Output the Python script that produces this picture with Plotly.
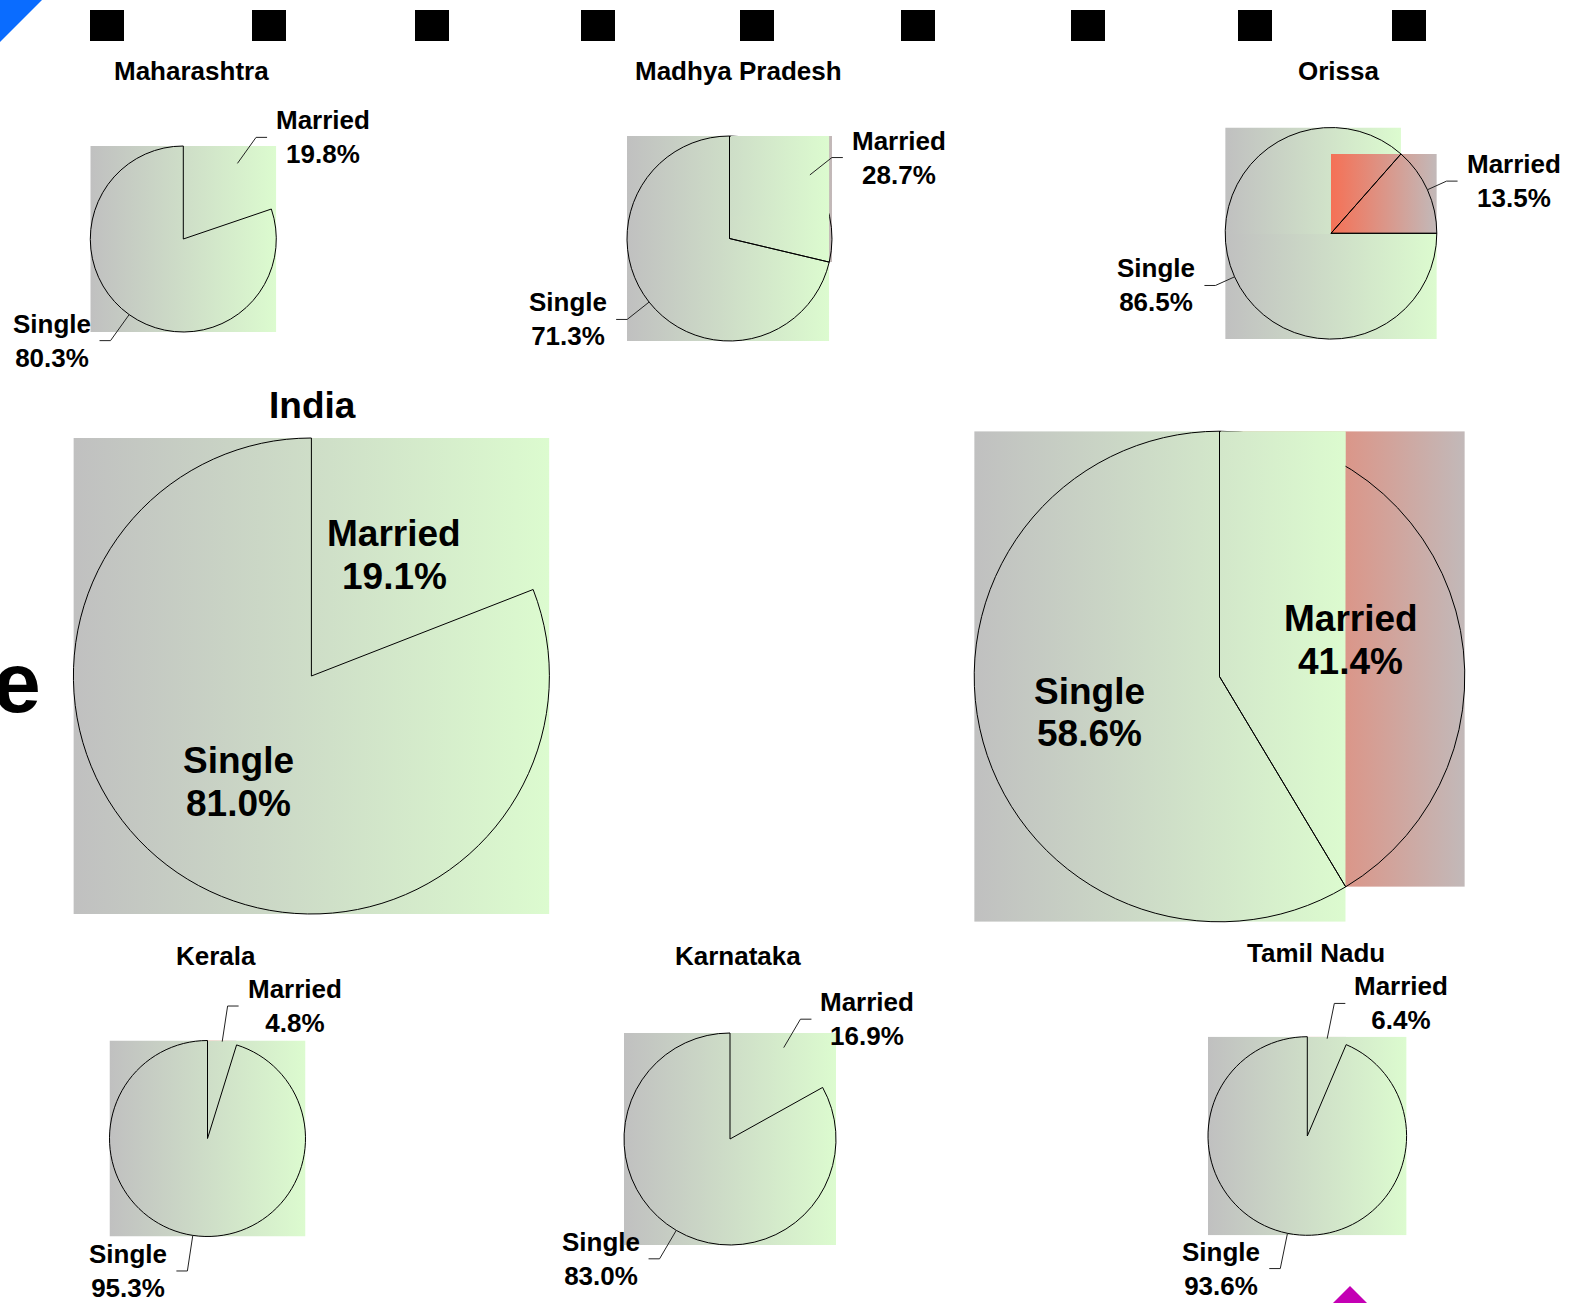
import base64
import math
import plotly.graph_objects as go

W, H = 1573, 1303

# ---------------- data ----------------
states = ["Maharashtra", "Madhya Pradesh", "Orissa", "India", "", "Kerala", "Karnataka", "Tamil Nadu"]
married = [19.8, 28.7, 13.5, 19.1, 41.4, 4.8, 16.9, 6.4]
single = [80.3, 71.3, 86.5, 81.0, 58.6, 95.3, 83.0, 93.6]
slice_names = ["Married", "Single"]

# ---------------- layout config (pixels) ----------------
pies = [
    dict(cx=183.3, cy=239.0, r=93.0, title=(191.6, 71), tsize=26, mode="out", lead=32),
    dict(cx=729.5, cy=238.5, r=102.5, title=(738.2, 71), tsize=26, mode="out", lead=28, cover=True),
    dict(cx=1331.0, cy=233.3, r=105.8, title=(1338.5, 71), tsize=26, mode="out", lead=21,
         single_first=True, split=270),
    dict(cx=311.4, cy=676.0, r=238.0, title=(312, 405), tsize=37, mode="in", kin=(0.616, 0.54)),
    dict(cx=1219.5, cy=676.5, r=245.3, title=None, mode="in", kin=(0.555, 0.55), cover=True),
    dict(cx=207.5, cy=1138.5, r=98.0, title=(216, 956), tsize=26, mode="out", lead=36),
    dict(cx=730.0, cy=1139.0, r=106.0, title=(737.7, 956), tsize=26, mode="out", lead=33),
    dict(cx=1307.3, cy=1136.0, r=99.3, title=(1316, 953), tsize=26, mode="out", lead=36),
]

GRAY = (192, 192, 192)
GREEN = (220, 251, 207)
RED = (245, 113, 86)
RGRAY = (194, 185, 185)
FONT = "Arial, Liberation Sans, sans-serif"

square_x = [90, 252, 415, 581, 740, 901, 1071, 1238, 1392]


def X(px):
    return px / W


def Y(py):
    return 1 - py / H


def pt(cx, cy, R, a):
    t = math.radians(a)
    return cx + R * math.sin(t), cy - R * math.cos(t)


def arc_bbox(cx, cy, r, a0, a1):
    xs, ys = [cx], [cy]
    for a in (a0, a1):
        x, y = pt(cx, cy, r, a)
        xs.append(x)
        ys.append(y)
    k = math.floor(a0 / 90) + 1
    while k * 90 < a1 - 1e-9:
        x, y = pt(cx, cy, r, k * 90)
        xs.append(x)
        ys.append(y)
        k += 1
    return min(xs), max(xs), min(ys), max(ys)


def mix(c0, c1, t):
    return tuple(round(c0[i] + (c1[i] - c0[i]) * t) for i in range(3))


def grad_src(c0, c1):
    svg = ("<svg xmlns='http://www.w3.org/2000/svg' width='100' height='100' viewBox='0 0 100 100' "
           "preserveAspectRatio='none'><defs><linearGradient id='g' x1='0' y1='0' x2='1' y2='0'>"
           f"<stop offset='0' stop-color='rgb{c0}'/><stop offset='1' stop-color='rgb{c1}'/>"
           "</linearGradient></defs><rect width='100' height='100' fill='url(#g)'/></svg>")
    return "data:image/svg+xml;base64," + base64.b64encode(svg.encode()).decode()


images = []
shapes = []
annotations = []
fig = go.Figure()


def add_grad(x0, x1, y0, y1, c0, c1, layer="below"):
    images.append(dict(source=grad_src(c0, c1), xref="paper", yref="paper",
                       x=X(x0), y=Y(y0), sizex=(x1 - x0) / W, sizey=(y1 - y0) / H,
                       xanchor="left", yanchor="top", sizing="stretch", layer=layer))


for i, cfg in enumerate(pies):
    m, s = married[i], single[i]
    tot = m + s
    cx, cy, r = cfg["cx"], cfg["cy"], cfg["r"]
    sf = cfg.get("single_first", False)
    if sf:
        s_span = (90.0, 90.0 + s / tot * 360)
        m_span = (s_span[1], 450.0)
    else:
        m_span = (0.0, m / tot * 360)
        s_span = (m_span[1], 360.0)

    # gradient fills (bounding boxes of slices)
    single_pieces = [s_span]
    if cfg.get("split") and s_span[0] < cfg["split"] < s_span[1]:
        single_pieces = [(s_span[0], cfg["split"]), (cfg["split"], s_span[1])]
    mb = arc_bbox(cx, cy, r, *m_span)
    sbs = [arc_bbox(cx, cy, r, *p) for p in single_pieces]
    if len(sbs) > 1:
        b0, b1 = sbs
        sbs = [(b0[0], b0[1], b0[2] - 1, b0[3]), (b1[0], b1[1], b1[2], b1[3] + 1)]
    if sf:
        for b in sbs:
            add_grad(b[0], b[1], b[2], b[3], GRAY, GREEN)
        add_grad(mb[0], mb[1], mb[2], mb[3], RED, RGRAY)
    else:
        add_grad(mb[0], mb[1], mb[2], mb[3], RED, RGRAY)
        for b in sbs:
            add_grad(b[0], b[1], b[2], b[3], GRAY, GREEN)

    show_m_line = sf or cfg.get("cover", False)
    if cfg.get("cover"):
        b = sbs[0]
        cx0 = cx + 1.5
        cx1 = b[1]
        ybot = cy - math.sqrt(max(r * r - (cx1 - cx) ** 2, 0)) + 1.5
        ybot = min(ybot, cy - 1.5)
        t0 = (cx0 - b[0]) / (b[1] - b[0])
        add_grad(cx0, cx1, b[2], ybot, mix(GRAY, GREEN, t0), GREEN, layer="above")

    if sf:
        vals, labs = [s, m], ["Single", "Married"]
        widths = [1, 1]
    else:
        vals, labs = [m, s], ["Married", "Single"]
        widths = [1 if show_m_line else 0, 1]

    fig.add_trace(go.Pie(
        values=vals, labels=labs, sort=False,
        direction="clockwise" if sf else "counterclockwise",
        rotation=90 if sf else 0,
        domain=dict(x=[X(cx - r), X(cx + r)], y=[Y(cy + r), Y(cy - r)]),
        marker=dict(colors=["rgba(0,0,0,0)", "rgba(0,0,0,0)"],
                    line=dict(color="#000000", width=widths)),
        textinfo="none", hoverinfo="label+percent", showlegend=False,
        name=states[i],
    ))

    # titles
    if cfg["title"] and states[i]:
        tx, ty = cfg["title"]
        annotations.append(dict(text=f"<b>{states[i]}</b>", x=X(tx), y=Y(ty), xref="paper", yref="paper",
                                xanchor="center", yanchor="middle", showarrow=False,
                                font=dict(family=FONT, size=cfg["tsize"], color="#000")))

    # slice labels
    for name, val, span, k in (("Married", m, m_span, 0), ("Single", s, s_span, 1)):
        mid = (span[0] + span[1]) / 2
        if cfg["mode"] == "out":
            side = 1 if math.sin(math.radians(mid)) > 0 else -1
            p0 = pt(cx, cy, r, mid)
            p1 = pt(cx, cy, r + cfg["lead"], mid)
            p2 = (p1[0] + side * 11, p1[1])
            shapes.append(dict(type="path", xref="paper", yref="paper",
                               path=f"M {X(p0[0])},{Y(p0[1])} L {X(p1[0])},{Y(p1[1])} L {X(p2[0])},{Y(p2[1])}",
                               line=dict(color="#222222", width=1)))
            annotations.append(dict(text=f"<b>{name}</b><br><b>{val:.1f}%</b>",
                                    x=X(p2[0] + side * 7), y=Y(p1[1]), xref="paper", yref="paper",
                                    xanchor="left" if side > 0 else "right", yanchor="middle",
                                    align="center", showarrow=False,
                                    font=dict(family=FONT, size=26, color="#000")))
        else:
            c = pt(cx, cy, r * cfg["kin"][k], mid)
            for txt, dy in ((name, -21.35), (f"{val:.1f}%", 21.35)):
                annotations.append(dict(text=f"<b>{txt}</b>", x=X(c[0]), y=Y(c[1] + dy),
                                        xref="paper", yref="paper", xanchor="center", yanchor="middle",
                                        showarrow=False, font=dict(family=FONT, size=37, color="#000")))

# legend-like black squares
for sx in square_x:
    shapes.append(dict(type="rect", xref="paper", yref="paper", x0=X(sx), x1=X(sx + 34),
                       y0=Y(41), y1=Y(10), fillcolor="#000000", line=dict(width=0)))

# corner decorations
shapes.append(dict(type="path", xref="paper", yref="paper",
                   path=f"M {X(0)},{Y(0)} L {X(42)},{Y(0)} L {X(0)},{Y(42)} Z",
                   fillcolor="#0a6cff", line=dict(width=0)))
shapes.append(dict(type="path", xref="paper", yref="paper",
                   path=f"M {X(1350)},{Y(1286)} L {X(1372)},{Y(1308)} L {X(1328)},{Y(1308)} Z",
                   fillcolor="#c400b4", line=dict(width=0)))

# clipped heading fragment at left edge (as in the reference)
annotations.append(dict(text="<b>e</b>", x=X(43), y=Y(682), xref="paper", yref="paper",
                        xanchor="right", yanchor="middle", showarrow=False,
                        font=dict(family=FONT, size=86, color="#000")))

fig.update_layout(
    width=W, height=H, margin=dict(l=0, r=0, t=0, b=0),
    paper_bgcolor="white", plot_bgcolor="white",
    images=images, shapes=shapes, annotations=annotations, showlegend=False,
)

fig.write_html("out.html", config={"displayModeBar": False},
               post_script="document.body.style.margin='0';document.body.style.overflow='hidden';")
